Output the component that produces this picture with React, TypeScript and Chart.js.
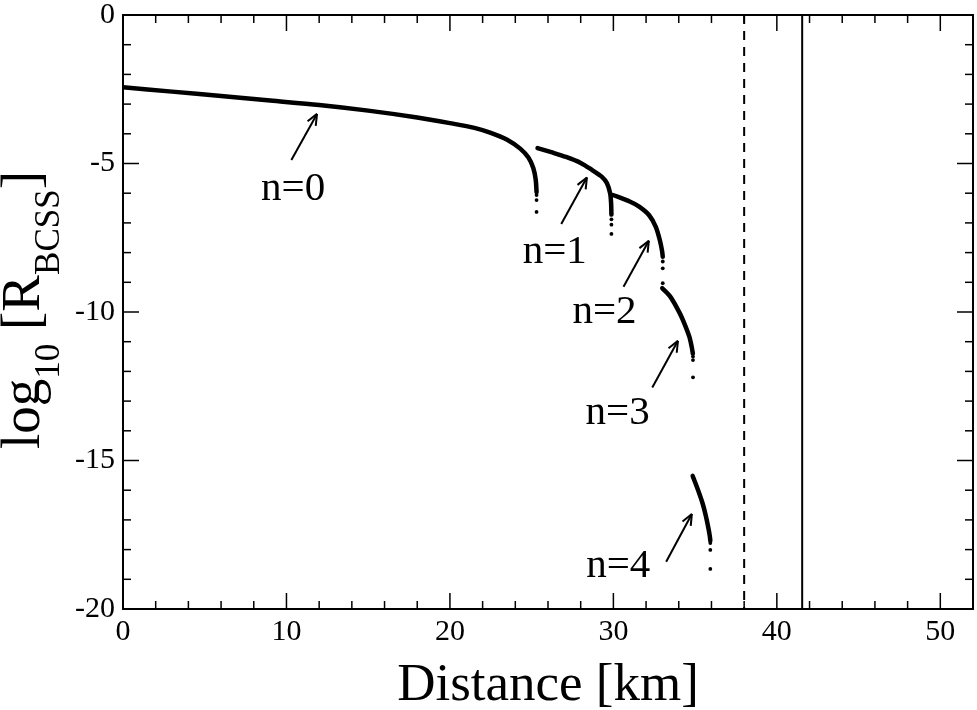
import React, { useEffect, useRef } from "react";
import { Chart, registerables } from "chart.js";

// Register chart.js modules
Chart.register(...registerables);

const SERIF = "'Liberation Serif', 'DejaVu Serif', serif";

// dense part of each branch
const n0X = [0, 3, 6, 9, 12, 15, 18, 20, 21.5, 22.5, 23.5, 24.3, 24.8, 25.1, 25.25, 25.3];
const n0Y = [-2.43, -2.58, -2.73, -2.88, -3.03, -3.22, -3.45, -3.64, -3.8, -3.97, -4.2, -4.5, -4.8, -5.15, -5.55, -5.96];
const n1X = [25.36, 26.2, 27.1, 28.0, 28.7, 29.3, 29.6, 29.8, 29.86, 29.88];
const n1Y = [-4.48, -4.62, -4.78, -4.98, -5.22, -5.45, -5.66, -6.0, -6.33, -6.72];
const n2X = [29.97, 31.0, 31.6, 32.2, 32.6, 32.85, 32.98, 33.02];
const n2Y = [-6.06, -6.28, -6.46, -6.75, -7.14, -7.6, -7.95, -8.14];
const n3X = [32.99, 33.5, 34.05, 34.35, 34.65, 34.8, 34.86];
const n3Y = [-9.2, -9.5, -10.03, -10.4, -10.84, -11.2, -11.4];
const n4X = [34.85, 35.15, 35.45, 35.65, 35.8, 35.9, 35.93];
const n4Y = [-15.52, -15.95, -16.43, -16.85, -17.24, -17.55, -17.7];

// sparse dots at the end of each branch
const tailX = [25.3, 29.88, 33.02, 34.87, 35.93];
const tailY = [
  [-6.06, -6.23, -6.63],
  [-6.88, -7.06, -7.37],
  [-8.3, -8.53, -9.03],
  [-11.5, -11.62, -12.2],
  [-17.78, -18.01, -18.65],
];

// vertical marker lines
const dashedX = 38.0;
const solidX = 41.55;

// arrows and their labels
const arrowLabels = ["n=0", "n=1", "n=2", "n=3", "n=4"];
const arrowFrom = [[10.3, -4.88], [26.81, -7.04], [30.62, -9.15], [32.38, -12.54], [33.23, -18.41]];
const arrowTo = [[11.87, -3.33], [28.38, -5.47], [32.17, -7.6], [33.95, -10.97], [34.8, -16.8]];
const labelAt = [[10.41, -6.23], [26.41, -8.36], [29.46, -10.38], [30.26, -13.77], [30.3, -18.91]];

const xRange = [0, 52];
const yRange = [-20, 0];

const pts = (xs: number[], ys: number[]) => xs.map((x, i) => ({ x, y: ys[i] }));

const decorations = {
  id: "decorations",
  afterDraw(chart: any) {
    const { ctx, chartArea: a, scales } = chart;
    const sx = scales.x;
    const sy = scales.y;
    const seg = (x1: number, y1: number, x2: number, y2: number) => {
      ctx.beginPath();
      ctx.moveTo(x1, y1);
      ctx.lineTo(x2, y2);
      ctx.stroke();
    };
    ctx.save();
    ctx.strokeStyle = "#000";
    ctx.fillStyle = "#000";

    // inward ticks on all four sides
    ctx.lineWidth = 1.5;
    for (let v = xRange[0]; v <= xRange[1]; v += 2) {
      const px = sx.getPixelForValue(v);
      const len = v % 10 === 0 ? 16 : 8;
      seg(px, a.bottom, px, a.bottom - len);
      seg(px, a.top, px, a.top + len);
    }
    for (let v = yRange[0]; v <= yRange[1]; v += 1) {
      const py = sy.getPixelForValue(v);
      const len = v % 5 === 0 ? 16 : 8;
      seg(a.left, py, a.left + len, py);
      seg(a.right, py, a.right - len, py);
    }

    // frame
    ctx.lineWidth = 2;
    ctx.strokeRect(a.left, a.top, a.right - a.left, a.bottom - a.top);

    // arrows
    ctx.lineWidth = 2;
    arrowFrom.forEach((f, i) => {
      const x1 = sx.getPixelForValue(f[0]);
      const y1 = sy.getPixelForValue(f[1]);
      const x2 = sx.getPixelForValue(arrowTo[i][0]);
      const y2 = sy.getPixelForValue(arrowTo[i][1]);
      seg(x1, y1, x2, y2);
      const ang = Math.atan2(y2 - y1, x2 - x1);
      const h = 12;
      for (const d of [0.4, -0.4]) {
        seg(x2, y2, x2 - h * Math.cos(ang + d), y2 - h * Math.sin(ang + d));
      }
    });

    // arrow labels
    ctx.font = `41px ${SERIF}`;
    ctx.textAlign = "center";
    ctx.textBaseline = "alphabetic";
    labelAt.forEach((p, i) => {
      ctx.fillText(arrowLabels[i], sx.getPixelForValue(p[0]), sy.getPixelForValue(p[1]));
    });

    // x title
    ctx.font = `53px ${SERIF}`;
    ctx.fillText("Distance [km]", (a.left + a.right) / 2, 700);

    // y title with subscripts
    const mainFont = `55px ${SERIF}`;
    const subFont = `35px ${SERIF}`;
    const pieces: [string, boolean][] = [
      ["log", false],
      ["10", true],
      [" [R", false],
      ["BCSS", true],
      ["]", false],
    ];
    const widths = pieces.map(([t, sub]) => {
      ctx.font = sub ? subFont : mainFont;
      return ctx.measureText(t).width;
    });
    const total = widths.reduce((s, w) => s + w, 0);
    ctx.translate(39, 310);
    ctx.rotate(-Math.PI / 2);
    ctx.textAlign = "left";
    let cx = -total / 2;
    pieces.forEach(([t, sub], i) => {
      ctx.font = sub ? subFont : mainFont;
      ctx.fillText(t, cx, sub ? 20 : 0);
      cx += widths[i];
    });
    ctx.restore();
  },
};

const BranchChart: React.FC = () => {
  const chartRef = useRef<HTMLCanvasElement | null>(null);

  useEffect(() => {
    if (!chartRef.current) return;
    const ctx = chartRef.current.getContext("2d");
    if (!ctx) return;

    const branch = (xs: number[], ys: number[]) => ({
      data: pts(xs, ys),
      showLine: true,
      borderColor: "#000",
      borderWidth: 4.5,
      borderCapStyle: "round" as const,
      tension: 0.3,
      pointRadius: 0,
      fill: false,
    });

    const tails = tailX.map((x, i) => ({
      data: tailY[i].map((y) => ({ x, y })),
      showLine: false,
      pointRadius: 1.9,
      pointBorderWidth: 0,
      backgroundColor: "#000",
    }));

    const chart = new Chart(ctx, {
      type: "scatter",
      data: {
        datasets: [
          branch(n0X, n0Y),
          branch(n1X, n1Y),
          branch(n2X, n2Y),
          branch(n3X, n3Y),
          branch(n4X, n4Y),
          ...tails,
          {
            data: [{ x: dashedX, y: yRange[1] }, { x: dashedX, y: yRange[0] }],
            showLine: true,
            borderColor: "#000",
            borderWidth: 2,
            borderDash: [9, 7],
            pointRadius: 0,
          },
          {
            data: [{ x: solidX, y: yRange[1] }, { x: solidX, y: yRange[0] }],
            showLine: true,
            borderColor: "#000",
            borderWidth: 2,
            pointRadius: 0,
          },
        ] as any,
      },
      options: {
        animation: false,
        responsive: false,
        layout: { padding: { top: 15, right: 4, left: 0, bottom: 0 } },
        plugins: { legend: { display: false }, tooltip: { enabled: false } },
        scales: {
          x: {
            type: "linear",
            min: xRange[0],
            max: xRange[1],
            grid: { display: false, drawTicks: false },
            border: { display: false },
            ticks: {
              stepSize: 10,
              includeBounds: false,
              padding: 5,
              maxRotation: 0,
              color: "#000",
              font: { family: SERIF, size: 30, lineHeight: 1.2 },
            },
            afterFit: (s: any) => {
              s.height = 101;
              s.paddingLeft = 0;
              s.paddingRight = 0;
            },
          },
          y: {
            type: "linear",
            min: yRange[0],
            max: yRange[1],
            grid: { display: false, drawTicks: false },
            border: { display: false },
            ticks: {
              stepSize: 5,
              padding: 8,
              color: "#000",
              font: { family: SERIF, size: 30, lineHeight: 1.2 },
            },
            afterFit: (s: any) => {
              s.width = 123;
              s.paddingTop = 0;
              s.paddingBottom = 0;
            },
          },
        },
      },
      plugins: [decorations],
    });

    return () => {
      chart.destroy();
    };
  }, []);

  return (
    <div style={{ position: "fixed", left: 0, top: 0, width: "977px", height: "710px", background: "#fff" }}>
      <canvas ref={chartRef} width={977} height={710}></canvas>
    </div>
  );
};

export default function App() {
  return <BranchChart />;
}
